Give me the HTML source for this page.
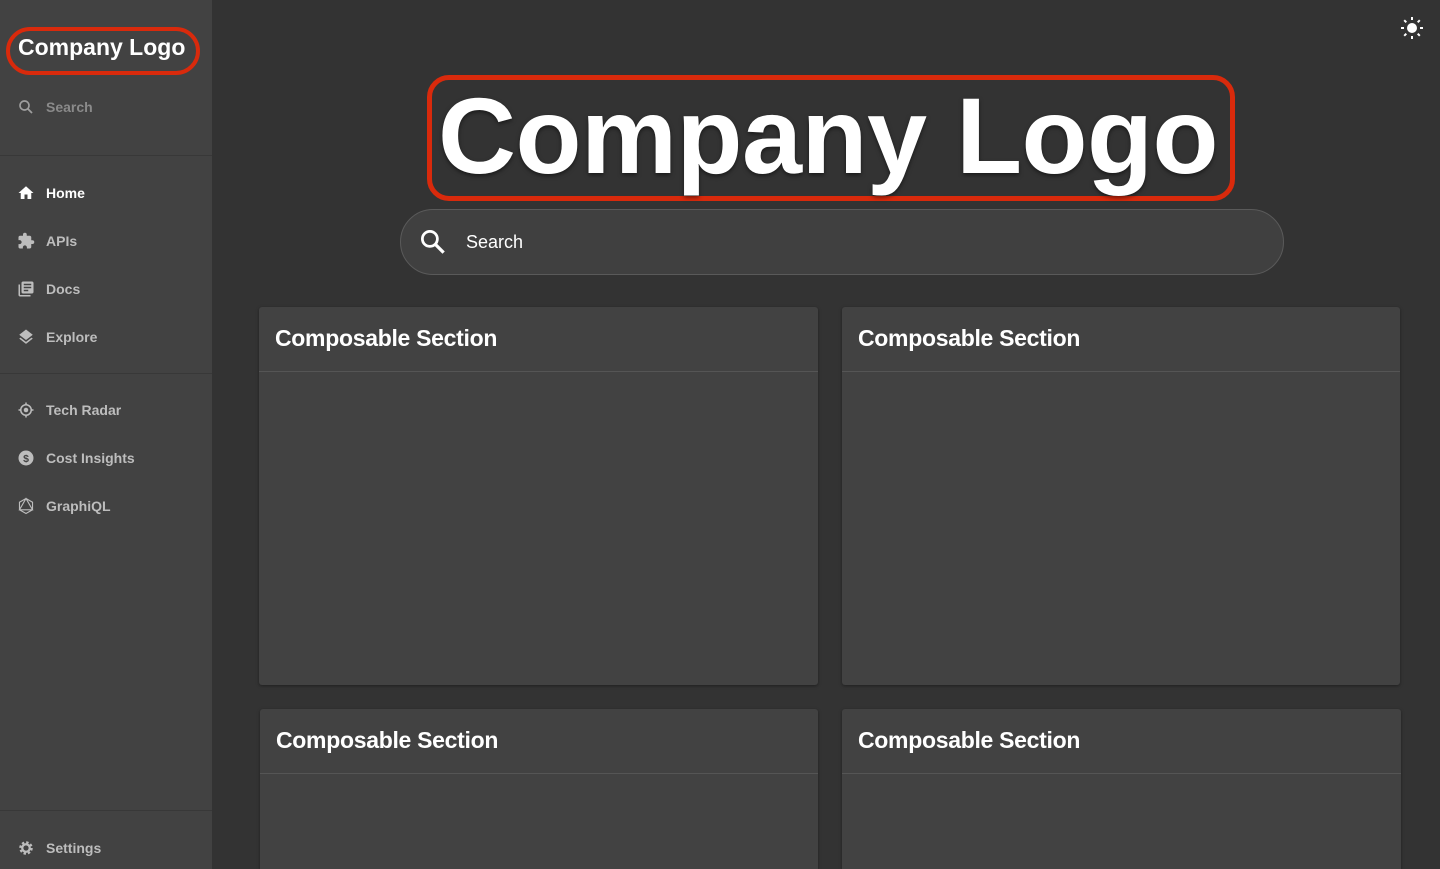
<!DOCTYPE html>
<html style="width:1440px;height:869px;overflow:hidden"><head><style>
*{margin:0;padding:0;box-sizing:border-box}
body{width:1440px;height:869px;overflow:hidden;background:#333;font-family:"Liberation Sans",sans-serif;position:relative;color:#fff}
.sb{position:absolute;left:0;top:0;width:212px;height:869px;background:#424242}
.hr{position:absolute;left:0;width:212px;height:1px;background:#383838}
.it{position:absolute;left:46px;font-size:14px;font-weight:bold;color:#bdbdbd;line-height:16px}
.ic{position:absolute;left:17px;width:18px;height:18px}
.box{position:absolute;border:4px solid #d92a0c}
.card{position:absolute;background:#424242;box-shadow:0 1px 3px rgba(0,0,0,.4);border-radius:3px}
.card .h{height:65px;border-bottom:1px solid #555;padding:18px 16px;font-size:23px;font-weight:bold;letter-spacing:-0.3px}
</style></head><body>
<div class="sb">
<div class="box" style="left:6px;top:27px;width:194px;height:48px;border-radius:24px"></div>
<div style="position:absolute;left:18px;top:34px;font-size:23px;font-weight:bold;letter-spacing:0px">Company Logo</div>
<svg class="ic" style="top:98px" viewBox="0 0 24 24"><circle cx="10" cy="10" r="6" fill="none" stroke="#9e9e9e" stroke-width="2.2"/><path d="M14.5 14.5L20 20" stroke="#9e9e9e" stroke-width="2.4"/></svg>
<div class="it" style="top:99px;color:#8a8a8a">Search</div>
<div class="hr" style="top:155px"></div>
<svg class="ic" style="top:184px" viewBox="0 0 24 24"><path d="M10 20v-6h4v6h5v-8h3L12 3 2 12h3v8z" fill="#fff"/></svg>
<div class="it" style="top:185px;color:#fff">Home</div>
<svg class="ic" style="top:232px" viewBox="0 0 24 24"><path d="M20.5 11H19V7c0-1.1-.9-2-2-2h-4V3.5a2.5 2.5 0 00-5 0V5H4c-1.1 0-2 .9-2 2v3.8h1.5c1.5 0 2.700 1.2 2.7 2.7S5 16.2 3.5 16.2H2V20c0 1.1.9 2 2 2h3.8v-1.5c0-1.5 1.2-2.7 2.7-2.7s2.7 1.2 2.7 2.7V22H17c1.1 0 2-.9 2-2v-4h1.5a2.5 2.5 0 000-5z" fill="#bdbdbd"/></svg>
<div class="it" style="top:233px">APIs</div>
<svg class="ic" style="top:280px" viewBox="0 0 24 24"><path d="M4 6H2v14c0 1.1.9 2 2 2h14v-2H4V6zm16-4H8c-1.1 0-2 .9-2 2v12c0 1.1.9 2 2 2h12c1.1 0 2-.9 2-2V4c0-1.1-.9-2-2-2zm-1 9H9V9h10v2zm-4 4H9v-2h6v2zm4-8H9V5h10v2z" fill="#bdbdbd"/></svg>
<div class="it" style="top:281px">Docs</div>
<svg class="ic" style="top:328px" viewBox="0 0 24 24"><path d="M12 18.5l-7.4-5.7L3 14.1l9 7 9-7-1.6-1.3zM12 16l7.4-5.7L21 9l-9-7-9 7 1.6 1.3z" fill="#bdbdbd"/></svg>
<div class="it" style="top:329px">Explore</div>
<div class="hr" style="top:373px"></div>
<svg class="ic" style="top:401px" viewBox="0 0 24 24"><circle cx="12" cy="12" r="7" fill="none" stroke="#bdbdbd" stroke-width="2"/><circle cx="12" cy="12" r="3" fill="#bdbdbd"/><path d="M12 2v3M12 19v3M2 12h3M19 12h3" stroke="#bdbdbd" stroke-width="2"/></svg>
<div class="it" style="top:402px">Tech Radar</div>
<svg class="ic" style="top:449px" viewBox="0 0 24 24"><circle cx="12" cy="12" r="10" fill="#bdbdbd"/><text x="12" y="17" text-anchor="middle" font-size="14" font-weight="bold" fill="#424242" font-family="Liberation Sans">$</text></svg>
<div class="it" style="top:450px">Cost Insights</div>
<svg class="ic" style="top:497px" viewBox="0 0 24 24"><path d="M12 2l8.7 5v10L12 22l-8.7-5V7z M12 2L3.3 17h17.4z" fill="none" stroke="#bdbdbd" stroke-width="1.5"/></svg>
<div class="it" style="top:498px">GraphiQL</div>
<div class="hr" style="top:810px"></div>
<svg class="ic" style="top:839px" viewBox="0 0 24 24"><circle cx="12" cy="12" r="7" fill="none" stroke="#bdbdbd" stroke-width="4" stroke-dasharray="3 2.5"/><circle cx="12" cy="12" r="5" fill="none" stroke="#bdbdbd" stroke-width="3"/></svg>
<div class="it" style="top:840px">Settings</div>
</div>
<svg style="position:absolute;left:1400px;top:16px" width="24" height="24" viewBox="0 0 24 24"><circle cx="12" cy="12" r="5" fill="#fff"/><g stroke="#fff" stroke-width="2"><path d="M12 1v3M12 20v3M1 12h3M20 12h3M4.2 4.2l2.1 2.1M17.7 17.7l2.1 2.1M4.2 19.8l2.1-2.1M17.7 6.3l2.1-2.1"/></g></svg>
<div class="box" style="left:427px;top:75px;width:808px;height:126px;border-radius:22px;border-width:5px"></div>
<div style="position:absolute;left:438px;top:66px;font-size:108px;font-weight:bold;letter-spacing:-0.5px;line-height:140px;text-shadow:0 2px 4px rgba(0,0,0,.5)">Company Logo</div>
<div style="position:absolute;left:400px;top:209px;width:884px;height:66px;border-radius:33px;background:#404040;border:1px solid #5a5a5a"></div>
<svg style="position:absolute;left:418px;top:227px" width="30" height="30" viewBox="0 0 24 24"><circle cx="9.5" cy="9.5" r="6" fill="none" stroke="#fff" stroke-width="2.2"/><path d="M14 14l6.5 6.5" stroke="#fff" stroke-width="2.6"/></svg>
<div style="position:absolute;left:466px;top:232px;font-size:18px">Search</div>
<div class="card" style="left:259px;top:307px;width:559px;height:378px"><div class="h">Composable Section</div></div>
<div class="card" style="left:842px;top:307px;width:558px;height:378px"><div class="h">Composable Section</div></div>
<div class="card" style="left:260px;top:709px;width:558px;height:160px;border-radius:3px 3px 0 0"><div class="h">Composable Section</div></div>
<div class="card" style="left:842px;top:709px;width:559px;height:160px;border-radius:3px 3px 0 0"><div class="h">Composable Section</div></div>
</body></html>
